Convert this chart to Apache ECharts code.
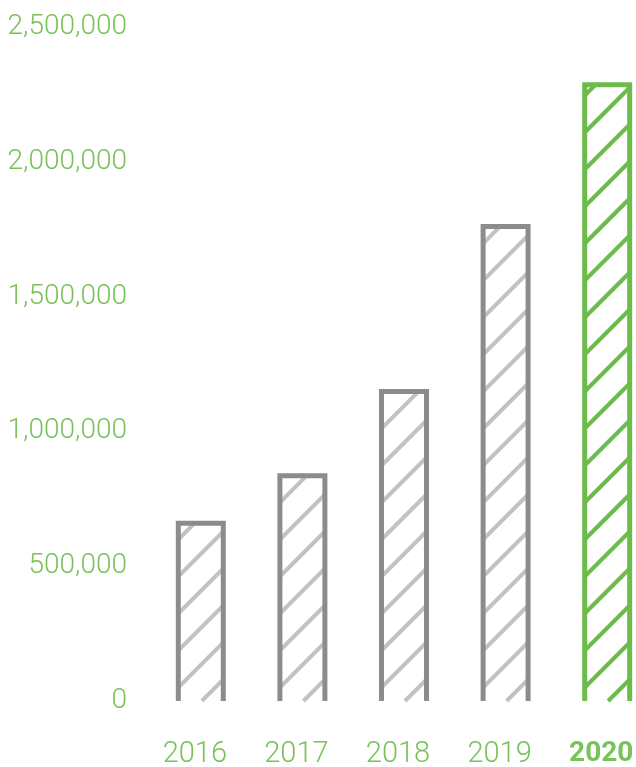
<!DOCTYPE html>
<html>
<head>
<meta charset="utf-8">
<script src="https://cdn.jsdelivr.net/npm/echarts@6/dist/echarts.min.js"></script>
<style>
html,body{margin:0;padding:0;background:#fff;}
#chart{width:636px;height:767px;}
</style>
</head>
<body>
<div id="chart"></div>
<script>
var categories = ['2016', '2017', '2018', '2019', '2020'];
var values = [669000, 845000, 1157000, 1769000, 2295000];
var yTicks = [0, 500000, 1000000, 1500000, 2000000, 2500000];

var GRAY = '#8c8c8c', GRAY_HATCH = '#c2c2c2';
var GREEN = '#6cbb4b', GREEN_HATCH = '#6cbb4b';
var TEXT_GREEN = '#79c159';
var FONT = 'Roboto, "Liberation Sans", sans-serif';

var lastIdx = categories.length - 1;
var seriesData = values.map(function (v, i) { return [i, v]; });

function renderItem(params, api) {
  var idx = api.value(0);
  var val = api.value(1);
  var top = api.coord([idx, val]);
  var base = api.coord([idx, 0]);
  var band = api.size([1, 0])[0];
  var w = band * 0.492;
  var bw = 5;
  var x0 = top[0] - w / 2, x1 = top[0] + w / 2;
  var y0 = top[1], y1 = base[1];
  var isLast = idx === lastIdx;
  var border = isLast ? GREEN : GRAY;
  var hatch = isLast ? GREEN_HATCH : GRAY_HATCH;
  var children = [];
  var ix0 = x0 + bw / 2, ix1 = x1 - bw / 2, iy0 = y0 + bw / 2, iy1 = y1;
  var step = 37;
  var cStart = x1 + y1 - 24;
  for (var c = cStart; c > ix0 + iy0; c -= step) {
    var xa = Math.max(ix0, c - iy1);
    var xb = Math.min(ix1, c - iy0);
    if (xb > xa) {
      children.push({
        type: 'line',
        shape: { x1: xa, y1: c - xa, x2: xb, y2: c - xb },
        style: { stroke: hatch, lineWidth: 4, lineCap: 'butt' },
        silent: true
      });
    }
  }
  children.push({
    type: 'polyline',
    shape: {
      points: [[x0 + bw / 2, y1], [x0 + bw / 2, y0 + bw / 2], [x1 - bw / 2, y0 + bw / 2], [x1 - bw / 2, y1]]
    },
    style: { stroke: border, lineWidth: bw, fill: null, lineJoin: 'miter' },
    silent: true
  });
  return { type: 'group', children: children };
}

var chart = echarts.init(document.getElementById('chart'), null, { renderer: 'canvas' });
chart.setOption({
  animation: false,
  grid: { left: 150, width: 508, top: 27, bottom: 66, containLabel: false, outerBoundsMode: 'none' },
  xAxis: {
    type: 'category',
    data: categories.map(function (c, i) {
      return i === lastIdx ? { value: c, textStyle: { fontWeight: 'bold', fontSize: 28 } } : c;
    }),
    axisLine: { show: false },
    axisTick: { show: false },
    splitLine: { show: false },
    axisLabel: {
      color: TEXT_GREEN, fontSize: 29, fontFamily: FONT, fontWeight: 300,
      margin: 39, interval: 0, padding: [0, 12, 0, 0]
    }
  },
  yAxis: {
    type: 'value',
    min: yTicks[0],
    max: yTicks[yTicks.length - 1],
    interval: yTicks[1] - yTicks[0],
    axisLine: { show: false },
    axisTick: { show: false },
    splitLine: { show: false },
    axisLabel: {
      color: TEXT_GREEN, fontSize: 28, fontFamily: FONT, fontWeight: 300, margin: 23,
      formatter: function (v) { return v.toLocaleString('en-US'); }
    }
  },
  series: [{
    type: 'custom',
    coordinateSystem: 'cartesian2d',
    renderItem: renderItem,
    encode: { x: 0, y: 1 },
    data: seriesData,
    clip: false
  }]
});
</script>
</body>
</html>
